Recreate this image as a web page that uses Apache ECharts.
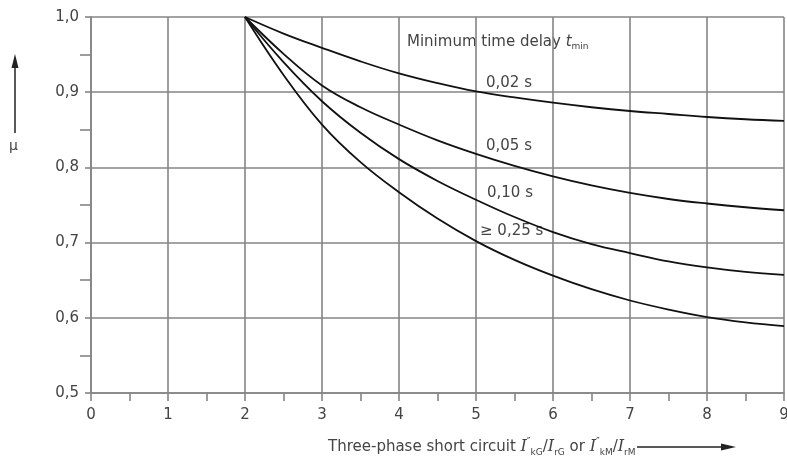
<!DOCTYPE html>
<html>
<head>
<meta charset="utf-8">
<script src="https://cdn.jsdelivr.net/npm/echarts@6/dist/echarts.min.js"></script>
<style>html,body{margin:0;padding:0;background:#fff}#c{width:787px;height:459px}</style>
</head>
<body>
<div id="c"></div>
<script>
// ---- data ----
const xValues = [2, 2.5, 3, 3.5, 4, 4.5, 5, 5.5, 6, 6.5, 7, 7.5, 8, 8.5, 9];
const mu_002 = [1.000, 0.978, 0.959, 0.941, 0.925, 0.912, 0.901, 0.893, 0.886, 0.880, 0.875, 0.871, 0.867, 0.864, 0.862];
const mu_005 = [1.000, 0.951, 0.909, 0.880, 0.857, 0.836, 0.818, 0.802, 0.788, 0.776, 0.766, 0.758, 0.752, 0.747, 0.743];
const mu_010 = [1.000, 0.940, 0.888, 0.846, 0.811, 0.782, 0.757, 0.734, 0.714, 0.698, 0.686, 0.675, 0.667, 0.661, 0.657];
const mu_025 = [1.000, 0.923, 0.857, 0.807, 0.767, 0.732, 0.702, 0.677, 0.656, 0.638, 0.623, 0.611, 0.601, 0.594, 0.589];
const seriesNames = ['0,02 s', '0,05 s', '0,10 s', '≥ 0,25 s'];
const xTickLabels = ['0', '1', '2', '3', '4', '5', '6', '7', '8', '9'];
const yTickLabels = ['0,5', '0,6', '0,7', '0,8', '0,9', '1,0'];

const FONT = 'DejaVu Sans';
const GRAY = '#858585';
const TEXT = '#444';

function pairs(ys) { return xValues.map((x, i) => [x, ys[i]]); }
const allSeries = [mu_002, mu_005, mu_010, mu_025];

const chart = echarts.init(document.getElementById('c'), null, { renderer: 'canvas' });
chart.setOption({
  animation: false,
  backgroundColor: '#fff',
  grid: { left: 91, right: 3, top: 17, bottom: 66, containLabel: false, outerBoundsMode: 'none' },
  xAxis: {
    type: 'value', min: 0, max: 9, interval: 1,
    axisLine: { show: true, lineStyle: { color: GRAY, width: 1.6 } },
    axisTick: { show: true, length: 8, lineStyle: { color: GRAY, width: 1.6 } },
    minorTick: { show: true, splitNumber: 2, length: 8, lineStyle: { color: GRAY, width: 1.6 } },
    splitLine: { show: true, lineStyle: { color: GRAY, width: 1.6 } },
    axisLabel: {
      margin: 15, fontSize: 15, fontFamily: FONT, color: TEXT,
      formatter: v => xTickLabels[Math.round(v)]
    }
  },
  yAxis: {
    type: 'value', min: 0.5, max: 1.0, interval: 0.1,
    axisLine: { show: true, lineStyle: { color: GRAY, width: 1.6 } },
    axisTick: { show: true, length: 6, lineStyle: { color: GRAY, width: 1.6 } },
    minorTick: { show: true, splitNumber: 2, length: 11, lineStyle: { color: GRAY, width: 1.6 } },
    splitLine: { show: true, lineStyle: { color: GRAY, width: 1.6 } },
    axisLabel: {
      margin: 12, fontSize: 15, fontFamily: FONT, color: TEXT,
      formatter: v => yTickLabels[Math.round((v - 0.5) * 10)]
    }
  },
  series: allSeries.map((ys, i) => ({
    name: seriesNames[i],
    type: 'line',
    data: pairs(ys),
    smooth: 0.4,
    showSymbol: false,
    symbol: 'none',
    z: 5,
    lineStyle: { color: '#111', width: 1.8 }
  })),
  graphic: [
    // y-axis symbol and arrow
    { type: 'text', left: 9, top: 139, style: { text: 'μ', fontSize: 14, fontFamily: FONT, fill: TEXT } },
    { type: 'line', shape: { x1: 15, y1: 133, x2: 15, y2: 66 }, style: { stroke: '#222', lineWidth: 1.5 } },
    { type: 'polygon', shape: { points: [[15, 54], [11.5, 68], [18.5, 68]] }, style: { fill: '#222' } },
    // curve family title
    { type: 'text', left: 407, top: 35, style: {
        text: '{n|Minimum time delay }{i|t}{s|min}',
        rich: {
          n: { fontSize: 15, fontFamily: FONT, fill: TEXT, lineHeight: 18, verticalAlign: 'middle' },
          i: { fontSize: 15, fontFamily: FONT, fontStyle: 'italic', fill: TEXT, lineHeight: 18, verticalAlign: 'middle' },
          s: { fontSize: 9, fontFamily: FONT, fill: TEXT, lineHeight: 9, verticalAlign: 'bottom' }
        }
    } },
    // curve labels
    { type: 'text', left: 486, top: 76, style: { text: seriesNames[0], fontSize: 15, fontFamily: FONT, fill: TEXT } },
    { type: 'text', left: 486, top: 139, style: { text: seriesNames[1], fontSize: 15, fontFamily: FONT, fill: TEXT } },
    { type: 'text', left: 487, top: 186, style: { text: seriesNames[2], fontSize: 15, fontFamily: FONT, fill: TEXT } },
    { type: 'text', left: 480, top: 224, style: { text: seriesNames[3], fontSize: 15, fontFamily: FONT, fill: TEXT } },
    // x-axis title
    { type: 'text', left: 328, top: 437, style: {
        text: '{n|Three-phase short circuit }{i|I}{p|″}{s|kG}{n|/}{i|I}{s|rG}{n| or }{i|I}{p|″}{s|kM}{n|/}{i|I}{s|rM}',
        rich: {
          n: { fontSize: 15, fontFamily: FONT, fill: TEXT, lineHeight: 20, verticalAlign: 'middle' },
          i: { fontSize: 16, fontFamily: 'DejaVu Serif', fontStyle: 'italic', fill: TEXT, lineHeight: 20, verticalAlign: 'middle' },
          p: { fontSize: 10, fontFamily: FONT, fill: TEXT, lineHeight: 10, verticalAlign: 'top' },
          s: { fontSize: 9, fontFamily: FONT, fill: TEXT, lineHeight: 9, verticalAlign: 'bottom' }
        }
    } },
    { type: 'line', shape: { x1: 637, y1: 447, x2: 722, y2: 447 }, style: { stroke: '#222', lineWidth: 1.5 } },
    { type: 'polygon', shape: { points: [[736, 447], [721, 443.5], [721, 450.5]] }, style: { fill: '#222' } }
  ]
});
</script>
</body>
</html>
